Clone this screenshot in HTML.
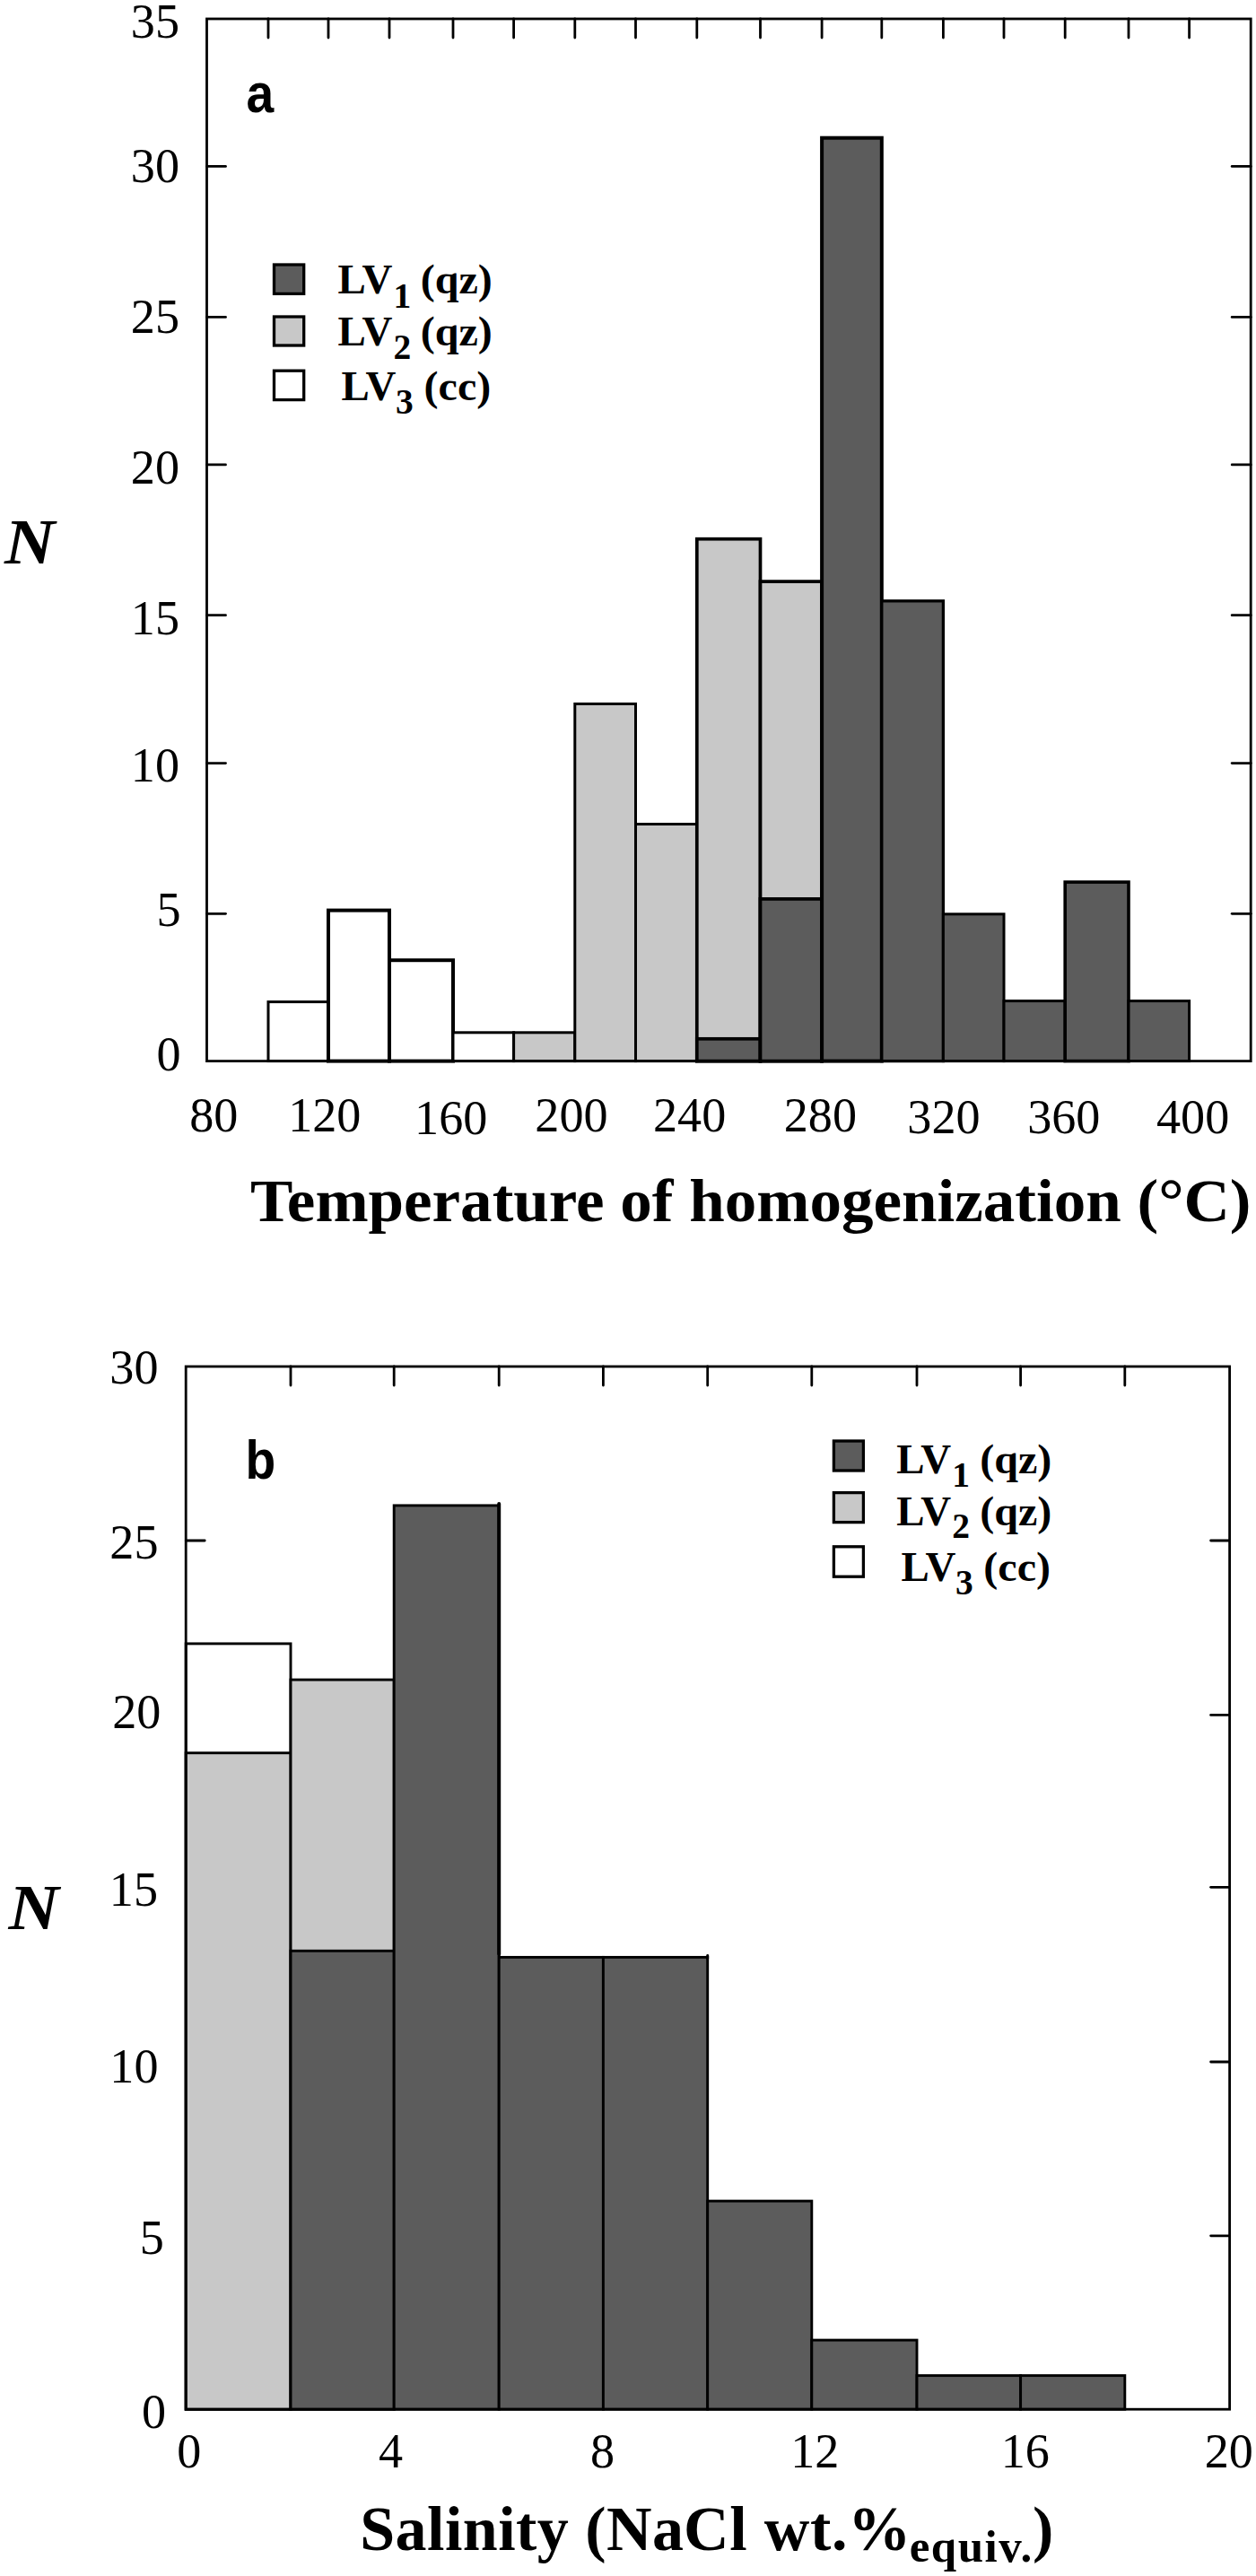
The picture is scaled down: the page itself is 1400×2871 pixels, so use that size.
<!DOCTYPE html>
<html lang="en">
<head>
<meta charset="utf-8">
<title>Fluid inclusion histograms</title>
<style>
html,body{margin:0;padding:0;background:#fff;}
body{width:1400px;height:2871px;overflow:hidden;}
svg{display:block;}
.num{font-family:"Liberation Serif","Times New Roman",serif;font-size:55px;fill:#000;}
.ttl{font-family:"Liberation Serif","Times New Roman",serif;font-weight:bold;fill:#000;}
.leg{font-family:"Liberation Serif","Times New Roman",serif;font-weight:bold;font-size:46px;fill:#000;}
.sub{font-family:"Liberation Serif","Times New Roman",serif;font-weight:bold;font-size:39.5px;fill:#000;}
.nlab{font-family:"Liberation Serif","Times New Roman",serif;font-weight:bold;font-style:italic;font-size:71.6px;fill:#000;}
.pan{font-family:"Liberation Sans",Arial,sans-serif;font-weight:bold;font-size:62px;fill:#000;}
.ax{stroke:#000;fill:none;stroke-linecap:round;}
.bar{stroke:#000;stroke-linejoin:miter;}
</style>
</head>
<body>
<svg width="1400" height="2871" viewBox="0 0 1400 2871">
<rect x="0" y="0" width="1400" height="2871" fill="#ffffff"/>

<g id="panel-a">
<rect class="bar" x="299.0" y="1116.6" width="67.0" height="66.0" fill="#ffffff" stroke-width="3.0"/>
<rect class="bar" x="366.0" y="1014.6" width="68.0" height="168.0" fill="#ffffff" stroke-width="4.0"/>
<rect class="bar" x="434.0" y="1070.2" width="71.0" height="112.4" fill="#ffffff" stroke-width="4.0"/>
<rect class="bar" x="505.0" y="1150.8" width="67.6" height="31.8" fill="#ffffff" stroke-width="3.0"/>
<rect class="bar" x="572.6" y="1150.8" width="68.2" height="31.8" fill="#c8c8c8" stroke-width="3.0"/>
<rect class="bar" x="640.8" y="784.5" width="67.7" height="398.1" fill="#c8c8c8" stroke-width="3.0"/>
<rect class="bar" x="708.5" y="918.5" width="68.3" height="264.1" fill="#c8c8c8" stroke-width="3.0"/>
<rect class="bar" x="776.8" y="600.7" width="70.7" height="581.9" fill="#c8c8c8" stroke-width="3.7"/>
<rect class="bar" x="776.8" y="1157.8" width="70.7" height="24.8" fill="#5c5c5c" stroke-width="3.7"/>
<rect class="bar" x="847.5" y="648.1" width="68.6" height="534.5" fill="#c8c8c8" stroke-width="3.7"/>
<rect class="bar" x="847.5" y="1001.9" width="68.6" height="180.7" fill="#5c5c5c" stroke-width="3.7"/>
<rect class="bar" x="916.1" y="153.7" width="66.7" height="1028.9" fill="#5c5c5c" stroke-width="4.0"/>
<rect class="bar" x="982.8" y="669.8" width="68.6" height="512.8" fill="#5c5c5c" stroke-width="3.3"/>
<rect class="bar" x="1051.4" y="1018.8" width="67.6" height="163.8" fill="#5c5c5c" stroke-width="3.0"/>
<rect class="bar" x="1119.0" y="1115.6" width="68.2" height="67.0" fill="#5c5c5c" stroke-width="3.0"/>
<rect class="bar" x="1187.2" y="983.1" width="70.8" height="199.5" fill="#5c5c5c" stroke-width="3.6"/>
<rect class="bar" x="1258.0" y="1115.6" width="67.6" height="67.0" fill="#5c5c5c" stroke-width="3.0"/>
<rect class="ax" x="230.5" y="21.0" width="1163.7" height="1161.6" fill="none" stroke-width="2.8"/>
<line class="ax" x1="299.0" y1="21.0" x2="299.0" y2="42.0" stroke-width="2.8"/>
<line class="ax" x1="366.0" y1="21.0" x2="366.0" y2="42.0" stroke-width="2.8"/>
<line class="ax" x1="434.0" y1="21.0" x2="434.0" y2="42.0" stroke-width="2.8"/>
<line class="ax" x1="505.0" y1="21.0" x2="505.0" y2="42.0" stroke-width="2.8"/>
<line class="ax" x1="572.6" y1="21.0" x2="572.6" y2="42.0" stroke-width="2.8"/>
<line class="ax" x1="640.8" y1="21.0" x2="640.8" y2="42.0" stroke-width="2.8"/>
<line class="ax" x1="708.5" y1="21.0" x2="708.5" y2="42.0" stroke-width="2.8"/>
<line class="ax" x1="776.8" y1="21.0" x2="776.8" y2="42.0" stroke-width="2.8"/>
<line class="ax" x1="847.5" y1="21.0" x2="847.5" y2="42.0" stroke-width="2.8"/>
<line class="ax" x1="916.1" y1="21.0" x2="916.1" y2="42.0" stroke-width="2.8"/>
<line class="ax" x1="982.8" y1="21.0" x2="982.8" y2="42.0" stroke-width="2.8"/>
<line class="ax" x1="1051.4" y1="21.0" x2="1051.4" y2="42.0" stroke-width="2.8"/>
<line class="ax" x1="1119.0" y1="21.0" x2="1119.0" y2="42.0" stroke-width="2.8"/>
<line class="ax" x1="1187.2" y1="21.0" x2="1187.2" y2="42.0" stroke-width="2.8"/>
<line class="ax" x1="1258.0" y1="21.0" x2="1258.0" y2="42.0" stroke-width="2.8"/>
<line class="ax" x1="1325.6" y1="21.0" x2="1325.6" y2="42.0" stroke-width="2.8"/>
<line class="ax" x1="230.5" y1="185.4" x2="251.5" y2="185.4" stroke-width="2.8"/>
<line class="ax" x1="1373.2" y1="185.4" x2="1394.2" y2="185.4" stroke-width="2.8"/>
<line class="ax" x1="230.5" y1="353.4" x2="251.5" y2="353.4" stroke-width="2.8"/>
<line class="ax" x1="1373.2" y1="353.4" x2="1394.2" y2="353.4" stroke-width="2.8"/>
<line class="ax" x1="230.5" y1="517.9" x2="251.5" y2="517.9" stroke-width="2.8"/>
<line class="ax" x1="1373.2" y1="517.9" x2="1394.2" y2="517.9" stroke-width="2.8"/>
<line class="ax" x1="230.5" y1="685.7" x2="251.5" y2="685.7" stroke-width="2.8"/>
<line class="ax" x1="1373.2" y1="685.7" x2="1394.2" y2="685.7" stroke-width="2.8"/>
<line class="ax" x1="230.5" y1="850.6" x2="251.5" y2="850.6" stroke-width="2.8"/>
<line class="ax" x1="1373.2" y1="850.6" x2="1394.2" y2="850.6" stroke-width="2.8"/>
<line class="ax" x1="230.5" y1="1018.3" x2="251.5" y2="1018.3" stroke-width="2.8"/>
<line class="ax" x1="1373.2" y1="1018.3" x2="1394.2" y2="1018.3" stroke-width="2.8"/>
<text class="num" transform="translate(200.0 42.3) scale(0.985 1)" text-anchor="end" >35</text>
<text class="num" transform="translate(200.0 203.3) scale(0.985 1)" text-anchor="end" >30</text>
<text class="num" transform="translate(200.0 371.4) scale(0.985 1)" text-anchor="end" >25</text>
<text class="num" transform="translate(200.0 538.5) scale(0.985 1)" text-anchor="end" >20</text>
<text class="num" transform="translate(200.0 706.5) scale(0.985 1)" text-anchor="end" >15</text>
<text class="num" transform="translate(200.0 871.0) scale(0.985 1)" text-anchor="end" >10</text>
<text class="num" transform="translate(201.6 1032.4) scale(0.985 1)" text-anchor="end" >5</text>
<text class="num" transform="translate(201.6 1193.2) scale(0.985 1)" text-anchor="end" >0</text>
<text class="num" transform="translate(238.2 1260.7) scale(0.985 1)" text-anchor="middle" >80</text>
<text class="num" transform="translate(361.8 1260.7) scale(0.985 1)" text-anchor="middle" >120</text>
<text class="num" transform="translate(502.7 1264.0) scale(0.985 1)" text-anchor="middle" >160</text>
<text class="num" transform="translate(637.0 1260.7) scale(0.985 1)" text-anchor="middle" >200</text>
<text class="num" transform="translate(768.6 1260.7) scale(0.985 1)" text-anchor="middle" >240</text>
<text class="num" transform="translate(914.4 1260.7) scale(0.985 1)" text-anchor="middle" >280</text>
<text class="num" transform="translate(1052.0 1263.0) scale(0.985 1)" text-anchor="middle" >320</text>
<text class="num" transform="translate(1185.8 1263.0) scale(0.985 1)" text-anchor="middle" >360</text>
<text class="num" transform="translate(1329.6 1263.0) scale(0.985 1)" text-anchor="middle" >400</text>
<text class="ttl" transform="translate(279.0 1361.0) scale(1.0 1)" text-anchor="start" font-size="68" textLength="1115.5" lengthAdjust="spacingAndGlyphs">Temperature of homogenization (°C)</text>
<text class="nlab" transform="translate(5.0 628.3) scale(1.09 1)" text-anchor="start" >N</text>
<text class="pan" transform="translate(274.5 124.7) scale(0.89 1)" text-anchor="start" >a</text>
<rect class="bar" x="305.5" y="295.0" width="33.2" height="32.4" fill="#5c5c5c" stroke-width="3.3"/>
<rect class="bar" x="305.5" y="353.0" width="33.2" height="32.0" fill="#c8c8c8" stroke-width="3.3"/>
<rect class="bar" x="305.5" y="413.2" width="33.2" height="32.4" fill="#ffffff" stroke-width="3.3"/>
<text class="leg" transform="translate(376.5 326.6) scale(1.02 1)" text-anchor="start" >LV</text>
<text class="sub" transform="translate(438.5 342.5) scale(1.0 1)" text-anchor="start" >1</text>
<text class="leg" transform="translate(468.7 326.6) scale(1.045 1)" text-anchor="start" >(qz)</text>
<text class="leg" transform="translate(376.5 385.0) scale(1.02 1)" text-anchor="start" >LV</text>
<text class="sub" transform="translate(438.5 399.8) scale(1.0 1)" text-anchor="start" >2</text>
<text class="leg" transform="translate(468.7 385.0) scale(1.045 1)" text-anchor="start" >(qz)</text>
<text class="leg" transform="translate(380.5 446.1) scale(1.02 1)" text-anchor="start" >LV</text>
<text class="sub" transform="translate(441.0 461.0) scale(1.0 1)" text-anchor="start" >3</text>
<text class="leg" transform="translate(472.6 446.1) scale(1.045 1)" text-anchor="start" >(cc)</text>
</g>
<g id="panel-b">
<rect class="bar" x="207.2" y="1831.9" width="116.8" height="853.3" fill="#ffffff" stroke-width="2.9"/>
<rect class="bar" x="207.2" y="1953.7" width="116.8" height="731.5" fill="#c8c8c8" stroke-width="2.9"/>
<rect class="bar" x="324.0" y="1872.1" width="115.2" height="813.1" fill="#c8c8c8" stroke-width="2.9"/>
<rect class="bar" x="324.0" y="2174.3" width="115.2" height="510.9" fill="#5c5c5c" stroke-width="2.9"/>
<rect class="bar" x="439.2" y="1677.9" width="117.0" height="1007.3" fill="#5c5c5c" stroke-width="2.9"/>
<rect class="bar" x="556.2" y="2181.4" width="116.2" height="503.8" fill="#5c5c5c" stroke-width="2.9"/>
<rect class="bar" x="672.4" y="2181.4" width="116.3" height="503.8" fill="#5c5c5c" stroke-width="2.9"/>
<rect class="bar" x="788.7" y="2453.1" width="116.1" height="232.1" fill="#5c5c5c" stroke-width="2.9"/>
<rect class="bar" x="904.8" y="2608.1" width="117.2" height="77.1" fill="#5c5c5c" stroke-width="2.9"/>
<rect class="bar" x="1022.0" y="2647.6" width="115.6" height="37.6" fill="#5c5c5c" stroke-width="2.9"/>
<rect class="bar" x="1137.6" y="2647.6" width="116.2" height="37.6" fill="#5c5c5c" stroke-width="2.9"/>
<line class="ax" x1="556.2" y1="1676.0" x2="556.2" y2="2178.0" stroke-width="4.0"/>
<line class="ax" x1="788.7" y1="2179.5" x2="788.7" y2="2183.0" stroke-width="2.9"/>
<rect class="ax" x="207.2" y="1523.0" width="1163.4" height="1162.2" fill="none" stroke-width="2.8"/>
<line class="ax" x1="324.0" y1="1523.0" x2="324.0" y2="1544.0" stroke-width="2.8"/>
<line class="ax" x1="439.2" y1="1523.0" x2="439.2" y2="1544.0" stroke-width="2.8"/>
<line class="ax" x1="556.2" y1="1523.0" x2="556.2" y2="1544.0" stroke-width="2.8"/>
<line class="ax" x1="672.4" y1="1523.0" x2="672.4" y2="1544.0" stroke-width="2.8"/>
<line class="ax" x1="788.7" y1="1523.0" x2="788.7" y2="1544.0" stroke-width="2.8"/>
<line class="ax" x1="904.8" y1="1523.0" x2="904.8" y2="1544.0" stroke-width="2.8"/>
<line class="ax" x1="1022.0" y1="1523.0" x2="1022.0" y2="1544.0" stroke-width="2.8"/>
<line class="ax" x1="1137.6" y1="1523.0" x2="1137.6" y2="1544.0" stroke-width="2.8"/>
<line class="ax" x1="1253.8" y1="1523.0" x2="1253.8" y2="1544.0" stroke-width="2.8"/>
<line class="ax" x1="1349.6" y1="1717.0" x2="1370.6" y2="1717.0" stroke-width="2.8"/>
<line class="ax" x1="1349.6" y1="1911.4" x2="1370.6" y2="1911.4" stroke-width="2.8"/>
<line class="ax" x1="1349.6" y1="2103.3" x2="1370.6" y2="2103.3" stroke-width="2.8"/>
<line class="ax" x1="1349.6" y1="2298.0" x2="1370.6" y2="2298.0" stroke-width="2.8"/>
<line class="ax" x1="1349.6" y1="2491.8" x2="1370.6" y2="2491.8" stroke-width="2.8"/>
<line class="ax" x1="207.2" y1="1717.0" x2="228.2" y2="1717.0" stroke-width="2.8"/>
<text class="num" transform="translate(176.5 1541.6) scale(0.985 1)" text-anchor="end" >30</text>
<text class="num" transform="translate(176.5 1737.0) scale(0.985 1)" text-anchor="end" >25</text>
<text class="num" transform="translate(179.3 1925.8) scale(0.985 1)" text-anchor="end" >20</text>
<text class="num" transform="translate(176.0 2124.3) scale(0.985 1)" text-anchor="end" >15</text>
<text class="num" transform="translate(176.5 2321.3) scale(0.985 1)" text-anchor="end" >10</text>
<text class="num" transform="translate(182.8 2512.0) scale(0.985 1)" text-anchor="end" >5</text>
<text class="num" transform="translate(185.0 2705.5) scale(0.985 1)" text-anchor="end" >0</text>
<text class="num" transform="translate(210.7 2750.3) scale(0.985 1)" text-anchor="middle" >0</text>
<text class="num" transform="translate(435.5 2750.3) scale(0.985 1)" text-anchor="middle" >4</text>
<text class="num" transform="translate(671.6 2750.3) scale(0.985 1)" text-anchor="middle" >8</text>
<text class="num" transform="translate(908.3 2750.3) scale(0.985 1)" text-anchor="middle" >12</text>
<text class="num" transform="translate(1142.8 2750.3) scale(0.985 1)" text-anchor="middle" >16</text>
<text class="num" transform="translate(1369.8 2750.3) scale(0.985 1)" text-anchor="middle" >20</text>
<text class="ttl" transform="translate(401.2 2841.5) scale(1.0 1)" text-anchor="start" font-size="70" textLength="360.8" lengthAdjust="spacing">Salinity (Na</text>
<text class="ttl" transform="translate(762.0 2841.5) scale(1.0 1)" text-anchor="start" font-size="70" textLength="253.3" lengthAdjust="spacing">Cl wt.%</text>
<text class="ttl" transform="translate(1013.7 2855.2) scale(1.0 1)" text-anchor="start" font-size="51" textLength="136.5" lengthAdjust="spacing">equiv.</text>
<text class="ttl" transform="translate(1151.0 2841.5) scale(1.0 1)" text-anchor="start" font-size="70">)</text>
<text class="nlab" transform="translate(9.4 2150.0) scale(1.09 1)" text-anchor="start" >N</text>
<text class="pan" transform="translate(273.5 1648.2) scale(0.89 1)" text-anchor="start" >b</text>
<rect class="bar" x="929.4" y="1606.0" width="33.0" height="33.0" fill="#5c5c5c" stroke-width="3.3"/>
<rect class="bar" x="929.4" y="1663.6" width="33.0" height="33.0" fill="#c8c8c8" stroke-width="3.3"/>
<rect class="bar" x="929.4" y="1723.8" width="33.0" height="33.4" fill="#ffffff" stroke-width="3.3"/>
<text class="leg" transform="translate(999.2 1642.0) scale(1.02 1)" text-anchor="start" >LV</text>
<text class="sub" transform="translate(1061.3 1656.9) scale(1.0 1)" text-anchor="start" >1</text>
<text class="leg" transform="translate(1092.3 1642.0) scale(1.045 1)" text-anchor="start" >(qz)</text>
<text class="leg" transform="translate(999.2 1699.7) scale(1.02 1)" text-anchor="start" >LV</text>
<text class="sub" transform="translate(1061.3 1714.3) scale(1.0 1)" text-anchor="start" >2</text>
<text class="leg" transform="translate(1092.3 1699.7) scale(1.045 1)" text-anchor="start" >(qz)</text>
<text class="leg" transform="translate(1004.4 1761.7) scale(1.02 1)" text-anchor="start" >LV</text>
<text class="sub" transform="translate(1065.0 1777.3) scale(1.0 1)" text-anchor="start" >3</text>
<text class="leg" transform="translate(1096.3 1761.7) scale(1.045 1)" text-anchor="start" >(cc)</text>
</g>
</svg>
</body>
</html>
